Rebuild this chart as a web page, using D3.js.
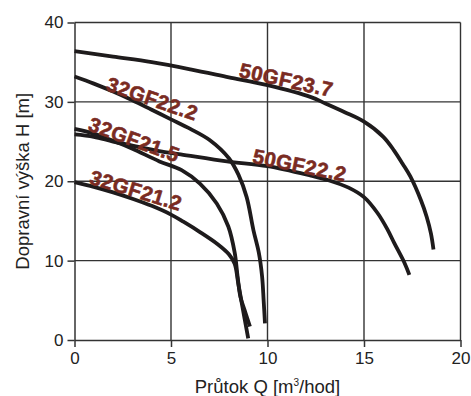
<!DOCTYPE html>
<html>
<head>
<meta charset="utf-8">
<script src="https://cdn.jsdelivr.net/npm/d3@7/dist/d3.min.js"></script>
<style>
  html, body { margin: 0; padding: 0; background: #fff; }
  svg { display: block; }
</style>
</head>
<body>
<svg id="chart" width="471" height="396"></svg>
<script>
// ---- data ----
const seriesNames = ["50GF23.7", "50GF22.2", "32GF22.2", "32GF21.5", "32GF21.2"];
const q50GF237 = [0, 2, 4, 6, 8, 10, 12.25, 13, 14, 15, 16, 16.55, 17, 17.4, 17.95, 18.25, 18.47, 18.6];
const h50GF237 = [36.4, 35.7, 35.0, 34.1, 33.1, 32.1, 30.6, 29.8, 28.7, 27.5, 25.6, 23.9, 22.2, 20.6, 17.6, 15.5, 13.4, 11.4];
const q50GF222 = [0, 1, 2, 3, 4.4, 5.5, 7.9, 10, 12.25, 13.2, 14.2, 15, 15.7, 16.2, 16.57, 17.1, 17.35];
const h50GF222 = [25.9, 25.6, 25.0, 24.5, 23.8, 23.4, 22.5, 21.9, 20.7, 20.1, 19.2, 18.0, 16.0, 14.0, 12.2, 9.7, 8.2];
const q32GF222 = [0, 1, 2, 3, 4, 5, 6, 7, 8, 8.5, 8.92, 9.27, 9.55, 9.72, 9.8, 9.87];
const h32GF222 = [33.2, 32.3, 31.3, 30.2, 29.0, 27.8, 26.6, 25.2, 22.9, 20.8, 18.0, 13.85, 11.0, 8.0, 5.0, 2.1];
const q32GF215 = [0, 1, 2, 3, 4.4, 5.55, 6.5, 7.37, 7.97, 8.3, 8.45, 8.6, 8.85, 9.09];
const h32GF215 = [26.6, 26.0, 25.1, 24.1, 22.5, 21.4, 19.7, 17.2, 14.3, 11.0, 8.0, 5.4, 3.5, 1.7];
const q32GF212 = [0, 1, 2, 3, 4, 5, 5.64, 6.5, 7.4, 8.0, 8.3, 8.48, 8.7, 9.0];
const h32GF212 = [19.9, 19.3, 18.6, 17.8, 16.9, 15.8, 14.9, 13.6, 12.1, 10.8, 9.6, 7.2, 4.2, 0.2];
const xTicks = [0, 5, 10, 15, 20];
const yTicks = [0, 10, 20, 30, 40];
const xTitle = "Průtok Q [m";
const xTitleSup = "3";
const xTitleEnd = "/hod]";
const yTitle = "Dopravní výška H [m]";
// label anchors (data coordinates) and angles
const labelQ = [8.49, 9.18, 1.58, 0.65, 0.72];
const labelH = [33.16, 22.33, 31.5, 26.45, 19.73];
const labelAngle = [12.3, 11.5, 19, 20, 16.8];

const seriesQ = [q50GF237, q50GF222, q32GF222, q32GF215, q32GF212];
const seriesH = [h50GF237, h50GF222, h32GF222, h32GF215, h32GF212];

// ---- layout ----
const svg = d3.select("#chart");
const x = d3.scaleLinear().domain([0, 20]).range([74.5, 460.5]);
const y = d3.scaleLinear().domain([0, 40]).range([340, 22.5]);
const gridColor = "#333";
const font = "'Liberation Sans', Arial, Helvetica, sans-serif";

// grid
const grid = svg.append("g");
grid.selectAll("line.v").data(xTicks.filter(d => d > 0)).enter().append("line")
  .attr("x1", d => x(d)).attr("x2", d => x(d))
  .attr("y1", y(0)).attr("y2", y(40))
  .attr("stroke", gridColor).attr("stroke-width", 1.4);
grid.selectAll("line.h").data(yTicks.filter(d => d > 0)).enter().append("line")
  .attr("x1", x(0)).attr("x2", x(20))
  .attr("y1", d => y(d)).attr("y2", d => y(d))
  .attr("stroke", gridColor).attr("stroke-width", 1.4);

// axes
const xAxis = svg.append("g").attr("transform", `translate(0,${y(0)})`)
  .call(d3.axisBottom(x).tickValues(xTicks).tickSize(7).tickSizeOuter(0).tickPadding(5));
const yAxis = svg.append("g").attr("transform", `translate(${x(0)},0)`)
  .call(d3.axisLeft(y).tickValues(yTicks).tickSize(7).tickSizeOuter(0).tickPadding(4));
[xAxis, yAxis].forEach(a => {
  a.select(".domain").attr("stroke", gridColor).attr("stroke-width", 1.5);
  a.selectAll(".tick line").attr("stroke", gridColor).attr("stroke-width", 1.5);
  a.selectAll(".tick text").attr("fill", "#222").style("font-family", font).style("font-size", "17px");
});

// curves
const line = d3.line().x(d => x(d[0])).y(d => y(d[1])).curve(d3.curveCatmullRom.alpha(0.5));
seriesQ.forEach((qs, i) => {
  const pts = qs.map((q, j) => [q, seriesH[i][j]]);
  svg.append("path").datum(pts).attr("d", line)
    .attr("fill", "none").attr("stroke", "#1e1b1c").attr("stroke-width", 3.8);
});

// labels
seriesNames.forEach((n, i) => {
  svg.append("text")
    .attr("transform", `translate(${x(labelQ[i])},${y(labelH[i])}) rotate(${labelAngle[i]})`)
    .attr("fill", "#7a2b22").attr("stroke", "#7a2b22").attr("stroke-width", 0.6)
    .style("font-family", font).style("font-weight", "bold").style("font-size", "20.5px")
    .style("letter-spacing", "0.5px")
    .text(n);
});

// axis titles
const xt = svg.append("text").attr("x", (x(0) + x(20)) / 2).attr("y", 392.5)
  .attr("text-anchor", "middle").attr("fill", "#222")
  .style("font-family", font).style("font-size", "18.5px");
xt.append("tspan").text(xTitle);
xt.append("tspan").attr("dy", -7).style("font-size", "10px").text(xTitleSup);
xt.append("tspan").attr("dy", 7).text(xTitleEnd);

svg.append("text").attr("transform", `translate(29,${(y(0) + y(40)) / 2}) rotate(-90)`)
  .attr("text-anchor", "middle").attr("fill", "#222")
  .style("font-family", font).style("font-size", "18.5px")
  .text(yTitle);
</script>
</body>
</html>
